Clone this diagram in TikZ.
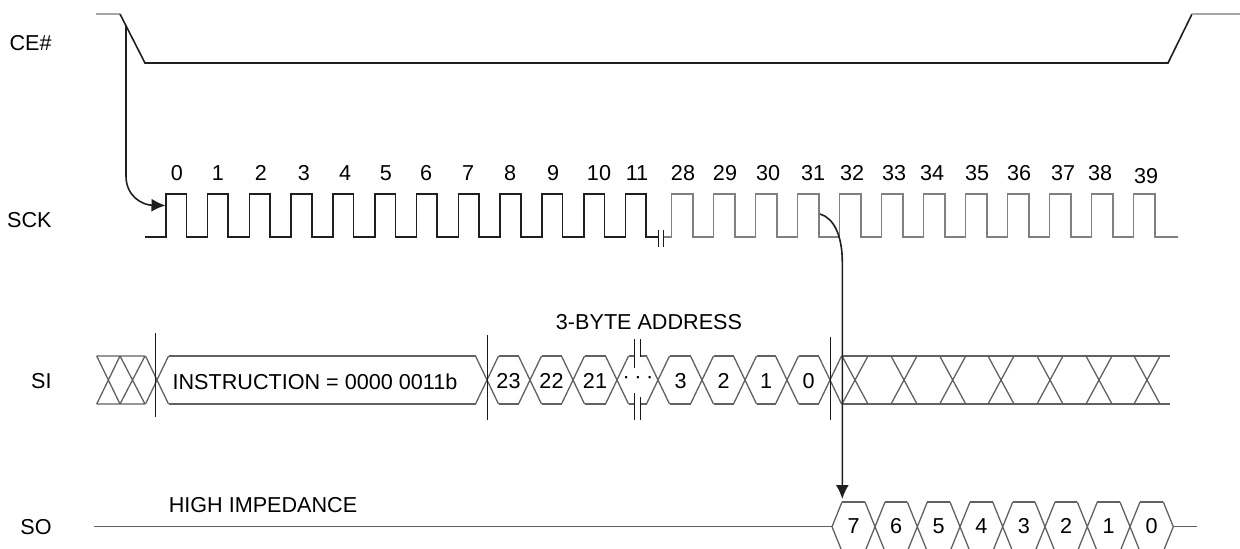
\documentclass[tikz,border=0pt]{standalone}
\usepackage{fontspec}
\setmainfont{Liberation Sans}
\usetikzlibrary{arrows.meta}
\begin{document}
\begin{tikzpicture}[x=0.5pt,y=-0.5pt,
  lab/.style={font=\fontsize{10.8}{13}\selectfont, inner sep=0pt},
  sig/.style={line width=0.8pt, draw=black!88},
  sig2/.style={line width=0.75pt, draw=black!50},
  lite/.style={line width=1pt, draw=black!35},
  bus/.style={line width=0.65pt, draw=black!62},
  tick/.style={line width=0.65pt, draw=black!90},
  tip/.style={-{Latex[length=7pt,width=6.5pt]}}
]
\useasboundingbox (0,0) rectangle (1240,548);

% ---------- signal names ----------
\node[lab,anchor=east] (nce)  at (52,43)    {CE\#};
\node[lab,anchor=east] (nsck) at (52,220)   {SCK};
\node[lab,anchor=east] (nsi)  at (52,381.5) {SI};
\node[lab,anchor=east] (nso)  at (52,526.7) {SO};

% ---------- CE# ----------
\draw[lite] (96,14) -- (120,14);
\draw[sig] (120,14) -- (145,63) -- (1168,63) -- (1192,14);
\draw[lite] (1192,14) -- (1240,14);

% ---------- SCK ----------
\draw[sig] (145,237)
  foreach \k in {0,...,11} { -- ({165.7+41.8*\k},237) -- ({165.7+41.8*\k},194)
                             -- ({186.4+41.8*\k},194) -- ({186.4+41.8*\k},237) }
  -- (658.3,237);
\draw[sig2] (663.3,237)
  foreach \n in {0,...,11} { -- ({671.7+42*\n},237) -- ({671.7+42*\n},194)
                             -- ({693.2+42*\n},194) -- ({693.2+42*\n},237) }
  -- (1177.7,237);
\draw[tick] (658.3,230) -- (658.3,247) (663.3,230) -- (663.3,247);

\foreach \x/\t in {177/0,218/1,261/2,304/3,345/4,386/5,426/6,468/7,510/8,553/9,599/10,637/11,
                   683/28,725/29,768/30,813/31,852/32,894/33,932/34,977/35,1019/36,1063/37,1100/38}
  \node[lab] (c\t) at (\x,173) {\t};
\node[lab] (c39) at (1146,176) {39};

% ---------- SI ----------
% leading don't-care
\draw[bus] (96.7,356) -- (145,356) (96.7,404) -- (145,404)
  (96.7,356) -- (120,404) (96.7,404) -- (120,356)
  (120,356) -- (145,404) (120,404) -- (145,356);
% crossings
\foreach \c in {157,487,530,573,617,658,702,745,787,830}
  \draw[bus] ({\c-11.5},356) -- ({\c+11.5},404) ({\c-11.5},404) -- ({\c+11.5},356);
% cell edges
\foreach \a/\b in {157/487,487/530,530/573,573/617,658/702,702/745,745/787,787/830}
  \draw[bus] ({\a+11.5},356) -- ({\b-11.5},356) ({\a+11.5},404) -- ({\b-11.5},404);
\draw[bus] (628.5,356) -- (634.3,356) (640.7,356) -- (646.5,356)
           (628.5,404) -- (634.3,404) (640.7,404) -- (646.5,404);
% trailing don't-care
\draw[bus] (841.5,356) -- (1170,356) (841.5,404) -- (1170,404);
\foreach \c in {855,904,952.7,1001,1050,1099,1147}
  \draw[bus] ({\c-13},356) -- ({\c+13},404) ({\c-13},404) -- ({\c+13},356);
% markers
\draw[tick] (155.5,333) -- (155.5,417);
\draw[tick] (487.5,335) -- (487.5,420);
\draw[tick] (830.5,337) -- (830.5,420);
\draw[tick] (634.3,339) -- (634.3,368) (640.7,339) -- (640.7,357)
            (634.3,393) -- (634.3,420) (640.7,397) -- (640.7,420);
% texts
\node[lab] (instr) at (315,382) {INSTRUCTION = 0000 0011b};
\node[lab] (addr)  at (649,322) {3-BYTE ADDRESS};
\foreach \x/\t in {508.5/23,551.5/22,595/21,680.5/3,723.5/2,766/1,808.5/0}
  \node[lab] (a\t) at (\x,381) {\t};
\node[lab] (adots) at (638,380) {\textperiodcentered\kern2.3pt\textperiodcentered\kern2.3pt\textperiodcentered};

% ---------- SO ----------
\draw[bus] (94.3,526.7) -- (832,526.7);
\node[lab] (hiz) at (263,505) {HIGH IMPEDANCE};
\draw[bus] (832,526.7) -- (842,502) (832,526.7) -- (842,551.4);
\foreach \c in {875,917.3,960,1002.7,1045,1087.3,1130}
  \draw[bus] ({\c-10},502) -- ({\c+10},551.4) ({\c-10},551.4) -- ({\c+10},502);
\foreach \a/\b in {832/875,875/917.3,917.3/960,960/1002.7,1002.7/1045,1045/1087.3,1087.3/1130,1130/1173.3}
  \draw[bus] ({\a+10},502) -- ({\b-10},502) ({\a+10},551.4) -- ({\b-10},551.4);
\draw[bus] (1163.3,502) -- (1173.3,526.7) -- (1163.3,551.4);
\draw[bus] (1173.3,526.7) -- (1196.7,526.7);
\foreach \x/\t in {853.5/7,896/6,938.7/5,981.3/4,1023.8/3,1066.2/2,1108.7/1,1151.7/0}
  \node[lab] (o\t) at (\x,526) {\t};

% ---------- arrows ----------
\coordinate (ceA) at (126,26);
\coordinate (sckA) at (165.5,205.5);
\draw[sig,tip] (ceA) -- (126,176) .. controls (126,196) and (142,205) .. (sckA);
\coordinate (s31) at (820,214);
\coordinate (soA) at (842.3,499);
\draw[sig,tip] (s31) .. controls (834,218) and (842.3,236) .. (842.3,262) -- (soA);
\end{tikzpicture}
\end{document}
